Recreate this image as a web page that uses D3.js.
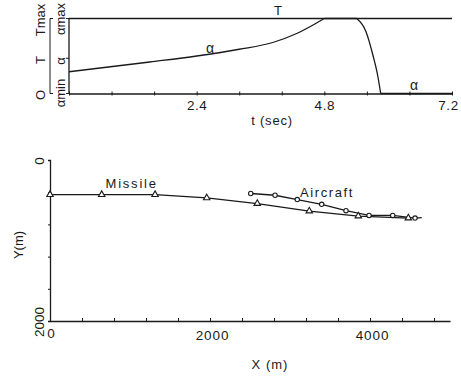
<!DOCTYPE html>
<html>
<head>
<meta charset="utf-8">
<script src="https://cdn.jsdelivr.net/npm/d3@7"></script>
<style>
  body { margin: 0; background: #fff; }
  svg { display: block; font-family: "Liberation Sans", Arial, sans-serif; }
  text { fill: #1a1a1a; }
</style>
</head>
<body>
<div id="chart"></div>
<script>
// top panel: thrust T and angle alpha vs time (alpha normalised 0 = amin, 1 = amax)
const alphaRiseT = [0, 1.52, 2.4, 3.2, 3.83, 4.28, 4.58, 4.8];
const alphaRiseV = [0.29, 0.42, 0.50, 0.59, 0.68, 0.80, 0.91, 1];
const alphaHoldT = [4.8, 5.41];
const alphaHoldV = [1, 1];
const alphaFallT = [5.41, 5.58, 5.71, 5.80, 5.86];
const alphaFallV = [1, 0.83, 0.52, 0.25, 0];
const alphaLowT = [5.86, 7.2];
const alphaLowV = [0, 0];
const thrustT = [0, 7.2];
const thrustV = [1, 1];
const timeTicks = [0, 0.8, 1.6, 2.4, 3.2, 4.0, 4.8, 5.6, 6.4, 7.2];
const timeLabels = [2.4, 4.8, 7.2];

// bottom panel: trajectories in metres
const missileX = [0, 646, 1313, 1959, 2591, 3241, 3854, 4479];
const missileY = [430, 430, 430, 471, 541, 634, 696, 721];
const aircraftX = [2509, 2813, 3091, 3396, 3700, 3988, 4284, 4563];
const aircraftY = [416, 438, 491, 550, 629, 688, 688, 721];
const aircraftEnd = [4646, 716];
const posXTicks = [0, 400, 800, 1200, 1600, 2000, 2400, 2800, 3200, 3600, 4000, 4400, 4800];
const posXLabels = [2000, 4000];
const posYTicks = [0, 400, 800, 1200, 1600, 2000];

const W = 461, H = 379;
const ink = "#1a1a1a";
const svg = d3.select("#chart").append("svg").attr("width", W).attr("height", H);

// ---------- top panel ----------
const xt = d3.scaleLinear().domain([0, 7.2]).range([69, 452]);
const ya = d3.scaleLinear().domain([0, 1]).range([93.5, 18.5]);
const gTop = svg.append("g");

function seg(g, ts, vs, curve) {
  const pts = ts.map((t, i) => [t, vs[i]]);
  g.append("path")
    .attr("d", d3.line().x(d => xt(d[0])).y(d => ya(d[1])).curve(curve)(pts))
    .attr("fill", "none").attr("stroke", ink).attr("stroke-width", 1.3);
}

const ax = gTop.append("g").attr("transform", `translate(0,${ya(0)})`)
  .call(d3.axisBottom(xt).tickValues(timeTicks).tickSizeOuter(0)
    .tickFormat(d => timeLabels.some(v => Math.abs(v - d) < 1e-6) ? d.toFixed(1) : ""));
ax.select(".domain").attr("stroke", ink).attr("stroke-width", 1.3);
ax.selectAll(".tick line").attr("y1", -2).attr("y2", 2).attr("stroke", ink);
ax.selectAll(".tick text").attr("y", 16.5).attr("dy", 0)
  .attr("dx", d => d > 7 ? -4 : 0)
  .attr("font-size", 13.5).attr("letter-spacing", 0.6)
  .attr("font-family", "Liberation Sans, Arial, sans-serif").attr("fill", ink);

// alpha axis
gTop.append("line").attr("x1", xt(0)).attr("x2", xt(0)).attr("y1", ya(1)).attr("y2", ya(0))
  .attr("stroke", ink).attr("stroke-width", 1.3);
[0, 0.47, 1].forEach(v => {
  gTop.append("line").attr("x1", xt(0) - 3).attr("x2", xt(0)).attr("y1", ya(v)).attr("y2", ya(v))
    .attr("stroke", ink);
});
// T bracket
gTop.append("path")
  .attr("d", `M53,${ya(1)}H50V${ya(0)}H53`)
  .attr("fill", "none").attr("stroke", ink).attr("stroke-width", 1);

function rot(g, x, y, txt, size) {
  g.append("text").attr("transform", `translate(${x},${y}) rotate(-90)`)
    .attr("text-anchor", "middle").attr("font-size", size || 13).text(txt);
}
rot(gTop, 45, 20, "Tmax");
rot(gTop, 45, 60, "T");
rot(gTop, 45, 95, "O");
rot(gTop, 65, 19, "αmax");
rot(gTop, 65, 61, "α");
rot(gTop, 65, 93, "αmin");

seg(gTop, thrustT, thrustV, d3.curveLinear);
seg(gTop, alphaRiseT, alphaRiseV, d3.curveMonotoneX);
seg(gTop, alphaHoldT, alphaHoldV, d3.curveLinear);
seg(gTop, alphaFallT, alphaFallV, d3.curveMonotoneX);
seg(gTop, alphaLowT, alphaLowV, d3.curveLinear);

gTop.append("text").attr("x", 278).attr("y", 15).attr("text-anchor", "middle").attr("font-size", 13).text("T");
gTop.append("text").attr("x", 210).attr("y", 53).attr("text-anchor", "middle").attr("font-size", 14).text("α");
gTop.append("text").attr("x", 414).attr("y", 90).attr("text-anchor", "middle").attr("font-size", 14).text("α");
gTop.append("text").attr("x", 272).attr("y", 125).attr("text-anchor", "middle")
  .attr("font-size", 13).attr("letter-spacing", 0.8).text("t (sec)");

// ---------- bottom panel ----------
const xp = d3.scaleLinear().domain([0, 5000]).range([50, 450]);
const yp = d3.scaleLinear().domain([0, 2000]).range([160, 321]);
const gBot = svg.append("g");

const bx = gBot.append("g").attr("transform", `translate(0,${yp(2000)})`)
  .call(d3.axisBottom(xp).tickValues(posXTicks).tickSizeInner(-3).tickSizeOuter(0)
    .tickFormat(d => posXLabels.includes(d) ? d : ""));
bx.select(".domain").attr("stroke", ink).attr("stroke-width", 1.3);
bx.selectAll(".tick line").attr("stroke", ink);
bx.selectAll(".tick text").attr("y", 19).attr("dy", 0).attr("dx", 2)
  .attr("font-size", 13.5).attr("letter-spacing", 0.9)
  .attr("font-family", "Liberation Sans, Arial, sans-serif").attr("fill", ink);

const by = gBot.append("g").attr("transform", `translate(${xp(0)},0)`)
  .call(d3.axisLeft(yp).tickValues(posYTicks).tickSize(2).tickFormat(""));
by.select(".domain").attr("stroke", ink).attr("stroke-width", 1.3);
by.selectAll(".tick line").attr("stroke", ink);

rot(gBot, 43.5, yp(0) + 1, "0", 13.5);
rot(gBot, 43.5, yp(2000) + 1, "2000", 13.5);
gBot.append("text").attr("x", xp(0) + 1).attr("y", 338).attr("text-anchor", "middle")
  .attr("font-size", 13.5).text("0");
rot(gBot, 23, 245, "Y(m)", 13);
gBot.append("text").attr("x", 270).attr("y", 369).attr("text-anchor", "middle")
  .attr("font-size", 13).attr("letter-spacing", 1).text("X (m)");

const lineP = d3.line().x(d => xp(d[0])).y(d => yp(d[1]));
const missile = missileX.map((x, i) => [x, missileY[i]]);
const aircraft = aircraftX.map((x, i) => [x, aircraftY[i]]);

gBot.append("path").attr("d", lineP(missile)).attr("fill", "none").attr("stroke", ink).attr("stroke-width", 1.3);
gBot.append("path").attr("d", lineP(aircraft.concat([aircraftEnd]))).attr("fill", "none")
  .attr("stroke", ink).attr("stroke-width", 1.3);

gBot.selectAll("path.tri").data(missile).join("path").attr("class", "tri")
  .attr("transform", d => `translate(${xp(d[0])},${yp(d[1])})`)
  .attr("d", d3.symbol(d3.symbolTriangle, 18))
  .attr("fill", "#fff").attr("stroke", ink).attr("stroke-width", 1.1);
gBot.selectAll("circle.ac").data(aircraft).join("circle").attr("class", "ac")
  .attr("cx", d => xp(d[0])).attr("cy", d => yp(d[1])).attr("r", 2.2)
  .attr("fill", "#fff").attr("stroke", ink).attr("stroke-width", 1.1);

gBot.append("text").attr("x", 105.5).attr("y", 188).attr("font-size", 13)
  .attr("letter-spacing", 1.8).text("Missile");
gBot.append("text").attr("x", 300).attr("y", 196.5).attr("font-size", 13)
  .attr("letter-spacing", 1.6).text("Aircraft");
</script>
</body>
</html>
